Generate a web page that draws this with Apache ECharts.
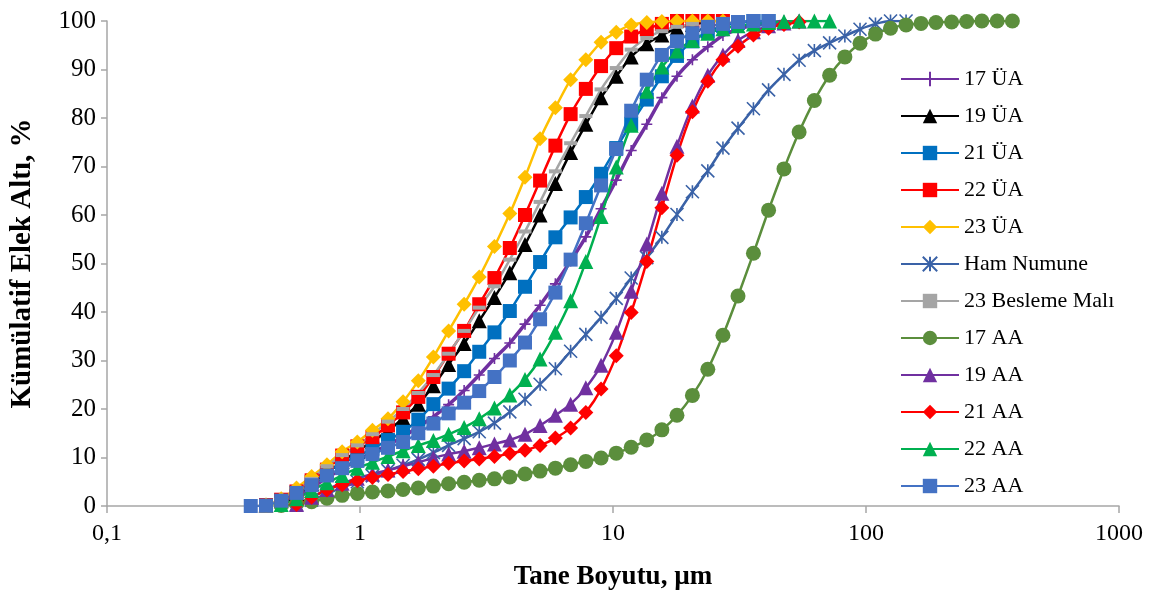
<!DOCTYPE html>
<html>
<head>
<meta charset="utf-8">
<script src="https://cdn.jsdelivr.net/npm/echarts@6/dist/echarts.min.js"></script>
<style>
  html, body { margin: 0; padding: 0; background: #fff; }
  #chart { width: 1158px; height: 596px; }
</style>
</head>
<body>
<div id="chart"></div>
<script>
// particle size grid (µm), shared by all curves
var sizes = [0.37, 0.425, 0.488, 0.561, 0.644, 0.74, 0.85, 0.976, 1.12, 1.29,
  1.48, 1.7, 1.95, 2.24, 2.58, 2.96, 3.4, 3.91, 4.49, 5.15,
  5.92, 6.8, 7.81, 8.97, 10.3, 11.8, 13.6, 15.6, 17.9, 20.6,
  23.7, 27.2, 31.2, 35.9, 41.2, 47.4, 54.4, 62.5, 71.8, 82.5,
  94.7, 109, 125, 144, 165, 189, 218, 250, 287, 330, 379]

var xTickLabels = { '0.1': '0,1', '1': '1', '10': '10', '100': '100', '1000': '1000' }

// cumulative passing %, each list starts at sizes[start]
var ua17 = [0.8, 2.0, 3.8, 5.8, 7.7, 9.4, 11.0, 12.6, 14.3, 16.3, 18.4, 20.9, 23.8, 27.0, 30.4, 33.6, 37.5, 41.4, 45.8, 50.5,
  55.5, 61.3, 67.2, 73.3, 78.7, 84.2, 88.6, 92.0, 94.7, 97.0, 98.3, 99.1, 99.6, 100]
var ua19 = [0.2, 1.1, 2.6, 4.6, 6.8, 9.2, 11.3, 13.3, 15.5, 18.1, 21.0, 24.8, 29.2, 33.5, 38.2, 43.0, 48.1, 53.9, 60.0, 66.5,
  72.9, 78.7, 84.2, 88.6, 92.6, 95.3, 97.1, 98.5, 99.3, 99.8]
var ua21 = [0.2, 1.2, 2.8, 5.0, 7.0, 8.8, 10.3, 11.8, 13.6, 15.3, 17.8, 21.0, 24.2, 27.8, 31.8, 35.8, 40.2, 45.2, 50.3, 55.4,
  59.5, 63.7, 68.5, 73.8, 78.8, 83.8, 88.6, 92.8, 95.8, 97.8, 99.0, 99.6, 100, 100]
var ua22 = [0.2, 1.3, 3.0, 5.3, 7.5, 10.4, 12.3, 14.2, 16.6, 19.3, 22.5, 26.6, 31.4, 36.1, 41.6, 47.0, 53.2, 60.0, 67.1, 74.3,
  80.8, 86.0, 90.7, 94.4, 96.8, 98.3, 99.4, 100, 100, 100, 100]
var ua23 = [0.2, 1.5, 3.7, 6.1, 8.5, 11.2, 13.2, 15.6, 18.0, 21.5, 25.8, 30.7, 36.1, 41.6, 47.2, 53.5, 60.3, 67.8, 75.7, 82.1,
  87.9, 92.0, 95.6, 97.7, 99.2, 99.7, 99.9, 100, 100, 100, 100]
var ham = [0.3, 1.2, 2.5, 3.8, 5.0, 6.2, 7.3, 8.4, 9.6, 11.0, 12.5, 13.9, 15.3, 17.1, 19.4, 22.0, 25.1, 28.3, 31.9, 35.4,
  38.9, 42.8, 47.0, 51.2, 55.4, 60.1, 64.8, 69.1, 73.8, 77.9, 81.9, 85.8, 89.0, 91.9, 93.9, 95.5, 96.9, 98.3, 99.4, 100, 100]
var besleme23 = [0.2, 1.3, 3.1, 5.6, 8.2, 10.5, 12.5, 14.8, 17.4, 20.0, 23.3, 27.0, 31.4, 36.1, 40.9, 45.3, 50.8, 56.6, 62.7, 69.0,
  74.8, 80.4, 85.9, 90.3, 94.1, 96.5, 97.9, 98.8, 99.4]
var aa17 = [0.1, 0.4, 0.9, 1.6, 2.2, 2.6, 2.9, 3.1, 3.4, 3.7, 4.1, 4.6, 4.9, 5.3, 5.6, 6.0, 6.6, 7.2, 7.8, 8.5,
  9.2, 9.9, 10.9, 12.1, 13.6, 15.7, 18.7, 22.8, 28.2, 35.2, 43.3, 52.1, 61.0, 69.5, 77.1, 83.6, 88.8, 92.6, 95.4, 97.3,
  98.5, 99.2, 99.5, 99.7, 99.8, 99.9, 100, 100, 100]
var aa19 = [0.3, 1.8, 3.4, 4.7, 5.7, 6.6, 7.4, 8.2, 9.0, 9.9, 10.7, 11.3, 12.0, 12.8, 13.6, 14.8, 16.6, 18.7, 21.0, 24.4,
  29.0, 35.8, 44.3, 54.0, 64.5, 74.2, 82.5, 88.8, 93.0, 96.0, 97.8, 99.0, 99.6, 100]
var aa21 = [0.3, 1.8, 3.3, 4.4, 5.2, 5.9, 6.5, 7.1, 7.7, 8.2, 8.8, 9.3, 9.7, 10.2, 10.8, 11.5, 12.5, 14.0, 16.1, 19.3,
  24.1, 31.0, 39.9, 50.4, 61.5, 72.3, 81.3, 87.6, 92.0, 94.8, 97.1, 98.5, 99.3, 99.8]
var aa22 = [0.3, 1.5, 3.2, 4.8, 6.3, 7.8, 9.0, 10.2, 11.4, 12.5, 13.5, 14.8, 16.2, 18.0, 20.2, 22.9, 26.1, 30.3, 35.8, 42.3,
  50.4, 59.7, 69.9, 78.5, 85.5, 90.5, 93.8, 96.0, 97.5, 98.4, 99.0, 99.4, 99.7, 99.9, 100, 100, 100]
var aa23 = [0, 0.1, 1.1, 2.7, 4.3, 6.3, 7.8, 9.3, 10.7, 12.0, 13.2, 15.0, 17.0, 19.1, 21.3, 23.7, 26.6, 30.0, 33.7, 38.5,
  44.0, 50.8, 58.3, 66.1, 73.6, 81.5, 87.9, 93.0, 95.8, 97.5, 98.8, 99.4, 99.8, 100, 100]

var seriesDefs = [
  { name: '17 ÜA', data: ua17, start: 2, color: '#7030A0', symbol: 'path://M5,0L5,10M0,5L10,5', size: 11, stroke: true, width: 3.5 },
  { name: '19 ÜA', data: ua19, start: 1, color: '#000000', symbol: 'triangle', size: 15 },
  { name: '21 ÜA', data: ua21, start: 1, color: '#0070C0', symbol: 'rect', size: 14 },
  { name: '22 ÜA', data: ua22, start: 1, color: '#FF0000', symbol: 'rect', size: 14 },
  { name: '23 ÜA', data: ua23, start: 1, color: '#FFC000', symbol: 'diamond', size: 15 },
  { name: 'Ham Numune', data: ham, start: 3, color: '#3A62A7', symbol: 'path://M0,0L10,10M10,0L0,10M5,0L5,10', size: 13, stroke: true },
  { name: '23 Besleme Malı', data: besleme23, start: 1, color: '#A5A5A5', symbol: 'rect', size: [13, 4] },
  { name: '17 AA', data: aa17, start: 2, color: '#5B8E3C', symbol: 'circle', size: 15 },
  { name: '19 AA', data: aa19, start: 3, color: '#7030A0', symbol: 'triangle', size: 15 },
  { name: '21 AA', data: aa21, start: 3, color: '#FF0000', symbol: 'diamond', size: 15 },
  { name: '22 AA', data: aa22, start: 2, color: '#00B050', symbol: 'triangle', size: 15 },
  { name: '23 AA', data: aa23, start: 0, color: '#4472C4', symbol: 'rect', size: 14 }
]

var font = '"Liberation Serif", "Times New Roman", serif'

var series = seriesDefs.map(function (d) {
  return {
    name: d.name,
    type: 'line',
    smooth: 0.25,
    symbol: d.symbol,
    symbolSize: d.size,
    showAllSymbol: true,
    data: d.data.map(function (v, k) { return [sizes[d.start + k], v] }),
    lineStyle: { color: d.color, width: d.width || 2.5 },
    itemStyle: d.stroke
      ? { color: d.color, borderColor: d.color, borderWidth: 1.6 }
      : { color: d.color, borderWidth: 0 },
    emphasis: { disabled: true },
    animation: false
  }
})

var chart = echarts.init(document.getElementById('chart'))
chart.setOption({
  backgroundColor: '#fff',
  animation: false,
  grid: { left: 104, right: 39, top: 21, bottom: 86 },
  legend: {
    orient: 'vertical',
    left: 895,
    top: 62,
    itemWidth: 58,
    itemHeight: 18,
    itemGap: 13,
    textStyle: { fontFamily: font, fontSize: 22, color: '#000', lineHeight: 24 },
    data: seriesDefs.map(function (d) { return d.name })
  },
  xAxis: {
    type: 'log',
    logBase: 10,
    min: 0.1,
    max: 1000,
    name: 'Tane Boyutu, µm',
    nameLocation: 'middle',
    nameGap: 58,
    nameTextStyle: { fontFamily: font, fontSize: 27, fontWeight: 'bold', color: '#000' },
    axisLine: { show: true, lineStyle: { color: '#A6A6A6', width: 1.5 } },
    axisTick: { show: true, length: 7, lineStyle: { color: '#A6A6A6', width: 1.5 } },
    minorTick: { show: false },
    splitLine: { show: false },
    axisLabel: {
      fontFamily: font, fontSize: 24, color: '#000', margin: 16,
      formatter: function (v) { var k = String(+v.toPrecision(6)); return xTickLabels[k] || k }
    }
  },
  yAxis: {
    type: 'value',
    min: 0,
    max: 100,
    interval: 10,
    name: 'Kümülatif Elek Altı, %',
    nameLocation: 'middle',
    nameGap: 70,
    nameRotate: 90,
    nameTextStyle: { fontFamily: font, fontSize: 29, fontWeight: 'bold', color: '#000' },
    axisLine: { show: true, lineStyle: { color: '#A6A6A6', width: 1.5 } },
    axisTick: { show: true, length: 6, lineStyle: { color: '#A6A6A6', width: 1.5 } },
    splitLine: { show: false },
    axisLabel: { fontFamily: font, fontSize: 25, color: '#000', margin: 11 }
  },
  series: series
})
</script>
</body>
</html>
